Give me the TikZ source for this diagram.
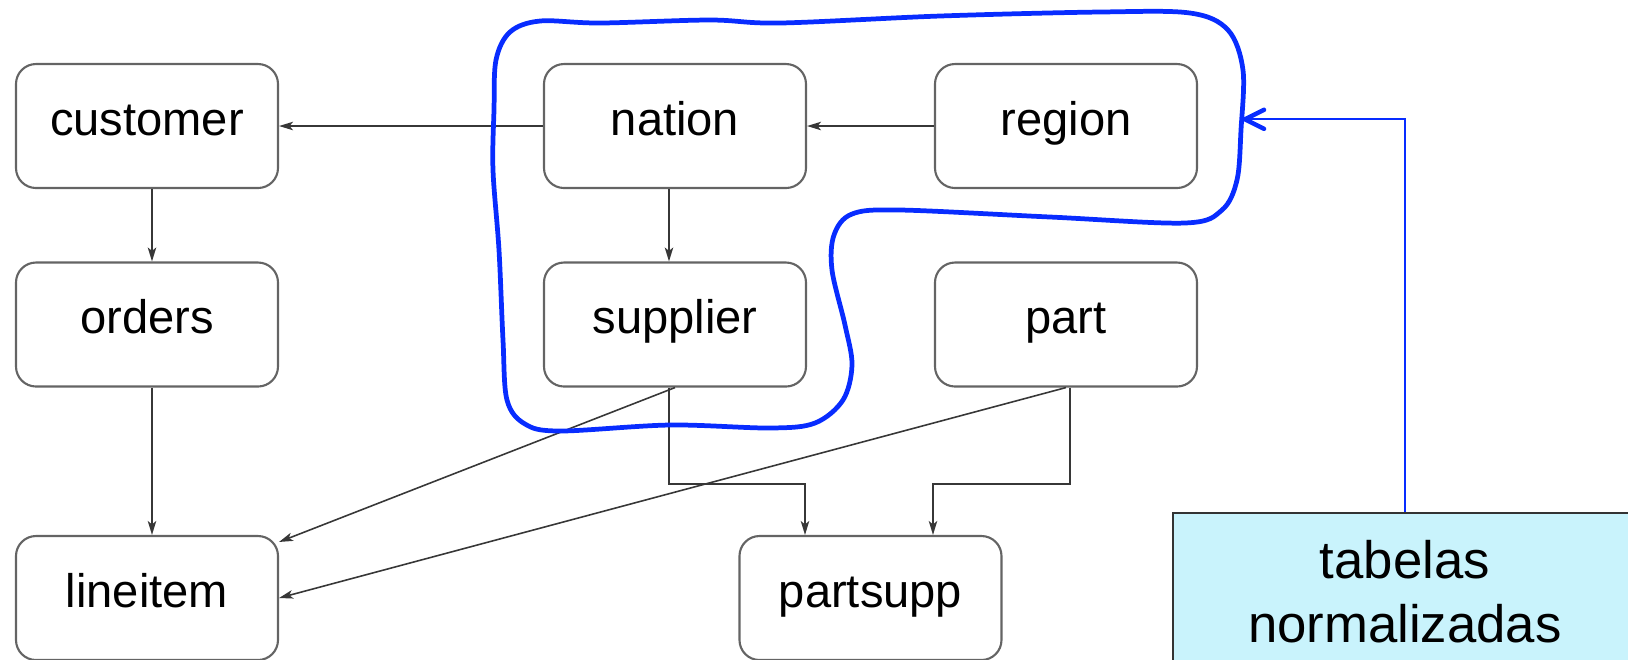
\documentclass[tikz,border=0pt]{standalone}
\usepackage{fontspec}
\setmainfont{Liberation Sans}
\usetikzlibrary{arrows.meta}

\definecolor{boxline}{RGB}{100,100,100}
\definecolor{linkline}{RGB}{55,55,55}
\definecolor{loopblue}{RGB}{8,44,255}
\definecolor{notefill}{RGB}{201,243,252}

\begin{document}
\begin{tikzpicture}[x=0.1mm, y=-0.1mm,
  tablebox/.style={draw=boxline, line width=0.6pt, rounded corners=2mm,
    minimum width=26.2mm, minimum height=12.4mm, inner sep=0pt,
    font=\fontsize{13.4}{16}\selectfont, text height=2.8mm, text depth=1.0mm},
  link/.style={draw=linkline, line width=0.45pt,
    -{Stealth[length=1.4mm,width=0.85mm,inset=0.35mm]}},
  notebox/.style={draw=black!80, line width=0.5pt, fill=notefill,
    text width=46.4mm, align=center, inner xsep=0pt, inner ysep=2.7mm,
    font=\fontsize{15}{18.2}\selectfont},
  loop/.style={draw=loopblue, line width=1.35pt, line cap=round, line join=round},
  pointer/.style={draw=loopblue, line width=0.6pt},
  barb/.style={draw=loopblue, line width=1.3pt, line cap=round, line join=round}
]
\useasboundingbox (0,0) rectangle (1628,659);
\clip (0,0) rectangle (1628,659);

% tables of the schema
\node[tablebox] (customer) at (147,126)   {customer};
\node[tablebox] (nation)   at (675,126)   {nation};
\node[tablebox] (region)   at (1066,126)  {region};
\node[tablebox] (orders)   at (147,324.5) {orders};
\node[tablebox] (supplier) at (675,324.5) {supplier};
\node[tablebox] (part)     at (1066,324.5){part};
\node[tablebox] (lineitem) at (147,598)   {lineitem};
\node[tablebox] (partsupp) at (870.5,598) {partsupp};

% foreign-key links
\draw[link] (nation.west) -- (customer.east);
\draw[link] (region.west) -- (nation.east);
\draw[link] ([xshift=0.5mm]customer.south) -- ([xshift=0.5mm]orders.north);
\draw[link] ([xshift=0.5mm]orders.south) -- ([xshift=0.5mm]lineitem.north);
\draw[link] ([xshift=-0.6mm]nation.south) -- ([xshift=-0.6mm]supplier.north);
\draw[link] (supplier.south) -- ([yshift=-0.7mm]lineitem.north east);
\draw[link] (part.south) -- (lineitem.east);
\draw[link] ([xshift=-0.6mm]supplier.south) -- ++(0,96.5) -| ([xshift=-6.55mm]partsupp.north);
\draw[link] ([xshift=0.4mm]part.south) -- ++(0,96.5) -| ([xshift=6.25mm]partsupp.north);

% freehand outline around the normalized tables
\draw[loop] plot[smooth cycle, tension=0.55] coordinates {
  (494,110) (496,60) (510,32) (540,21) (600,23) (710,20) (780,23)
  (940,16) (1100,12) (1190,13) (1228,30) (1243,70) (1241,130)
  (1237,180) (1222,210) (1185,223) (1050,217) (900,210) (852,214)
  (834,235) (832,270) (845,325) (852,365) (843,400) (815,423)
  (770,428) (670,425) (560,431) (525,424) (507,400) (503,340)
  (499,250) (493,170)};

% note box and its pointer
\node[notebox, anchor=north west] (note) at (1172,512) {tabelas\\normalizadas};
\coordinate (loopedge) at (1245,119.3);
\draw[pointer] (note.north) |- (loopedge);
\draw[barb] ([shift={(19,-9.5)}]loopedge) -- (loopedge) -- ([shift={(19,9.5)}]loopedge);
\end{tikzpicture}
\end{document}
